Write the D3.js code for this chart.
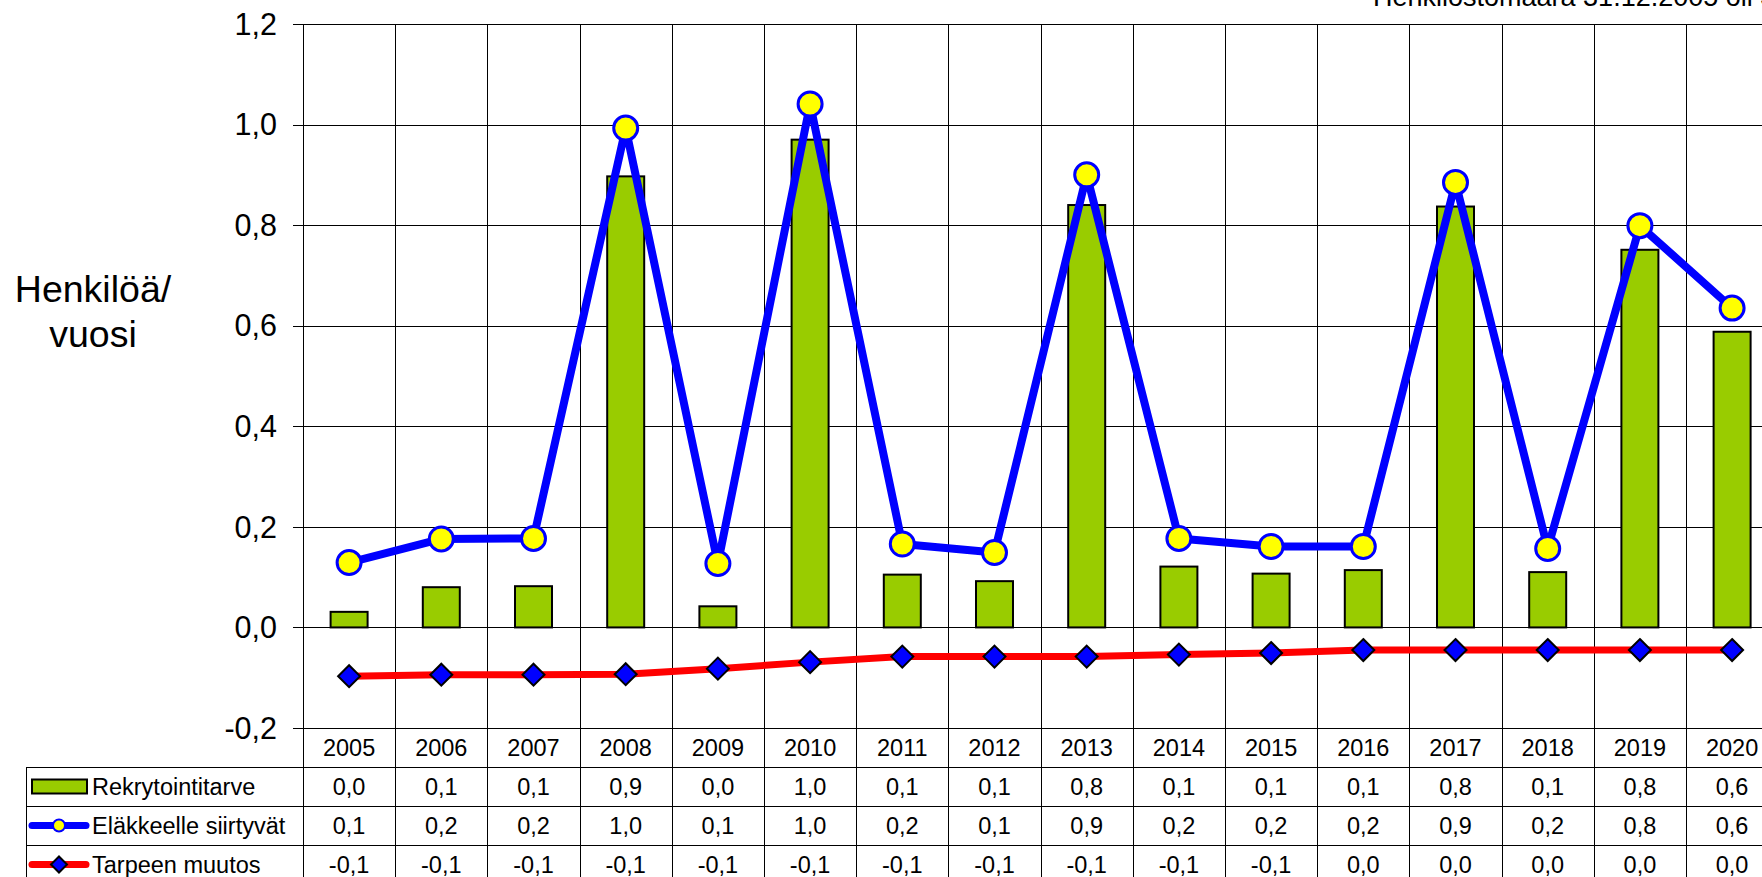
<!DOCTYPE html>
<html>
<head>
<meta charset="utf-8">
<script src="https://cdn.jsdelivr.net/npm/d3@7"></script>
<style>
    body { margin: 0; background: #fff; }
    svg { display: block; font-family: "Liberation Sans", Arial, sans-serif; }
</style>
</head>
<body>
<script>
// years on the x axis
const years = ["2005", "2006", "2007", "2008", "2009", "2010", "2011", "2012",
    "2013", "2014", "2015", "2016", "2017", "2018", "2019", "2020"];

// Rekrytointitarve (bars)
const rekrytointi = [0.031, 0.080, 0.082, 0.897, 0.042, 0.970, 0.105, 0.092,
    0.840, 0.121, 0.107, 0.114, 0.837, 0.110, 0.751, 0.588];

// Eläkkeelle siirtyvät (blue line)
const elakkeelle = [0.129, 0.176, 0.177, 0.993, 0.127, 1.041, 0.166, 0.149,
    0.900, 0.177, 0.161, 0.161, 0.885, 0.157, 0.799, 0.635];

// Tarpeen muutos (red line)
const muutos = [-0.097, -0.094, -0.094, -0.093, -0.082, -0.069, -0.058, -0.058,
    -0.058, -0.054, -0.051, -0.045, -0.045, -0.045, -0.045, -0.045];

const yTicks = [-0.2, 0, 0.2, 0.4, 0.6, 0.8, 1.0, 1.2];

const seriesNames = ["Rekrytointitarve", "Eläkkeelle siirtyvät", "Tarpeen muutos"];

const width = 1762, height = 877;
const plotLeft = 303, plotTop = 24, plotBottom = 728;
const step = 92.2;
const rowH = 39;
const tableFont = 23.5;

const fi = d3.formatLocale({decimal: ",", thousands: " ", grouping: [3], currency: ["", ""], minus: "-"});
const f1 = fi.format(".1f");

const svg = d3.select("body").append("svg")
    .attr("width", width)
    .attr("height", height);

const x = d3.scaleBand()
    .domain(years)
    .range([plotLeft, plotLeft + step * years.length])
    .padding(0);

const y = d3.scaleLinear()
    .domain([-0.2, 1.2])
    .range([plotBottom, plotTop]);

const cx = d => x(d) + x.bandwidth() / 2;
const tableTop = plotBottom + rowH;
const rows = [rekrytointi, elakkeelle, muutos];

// horizontal gridlines
svg.append("g")
    .selectAll("line")
    .data(yTicks)
    .join("line")
    .attr("x1", plotLeft - 10)
    .attr("x2", width)
    .attr("y1", d => Math.round(y(d)) + 0.5)
    .attr("y2", d => Math.round(y(d)) + 0.5)
    .attr("stroke", "#000")
    .attr("stroke-width", 1);

// vertical gridlines (continue down through the data table)
svg.append("g")
    .selectAll("line")
    .data(years.concat(["end"]))
    .join("line")
    .attr("x1", (d, i) => Math.round(plotLeft + i * x.bandwidth()) + 0.5)
    .attr("x2", (d, i) => Math.round(plotLeft + i * x.bandwidth()) + 0.5)
    .attr("y1", plotTop)
    .attr("y2", height)
    .attr("stroke", "#000")
    .attr("stroke-width", 1);

// y tick labels
svg.append("g")
    .selectAll("text")
    .data(yTicks)
    .join("text")
    .attr("x", 277)
    .attr("y", d => y(d))
    .attr("dy", "0.35em")
    .attr("text-anchor", "end")
    .attr("font-size", 30.5)
    .text(d => f1(d));

// y title
svg.append("text")
    .attr("x", 93)
    .attr("y", 302)
    .attr("text-anchor", "middle")
    .attr("font-size", 37.5)
    .selectAll("tspan")
    .data(["Henkilöä/", "vuosi"])
    .join("tspan")
    .attr("x", 93)
    .attr("dy", (d, i) => i ? 45 : 0)
    .text(d => d);

// note in the top right corner (cut by the page edge like in the original)
svg.append("text")
    .attr("x", 1373)
    .attr("y", 6)
    .attr("font-size", 27)
    .text("Henkilöstömäärä 31.12.2005 oli 3");

// bars
const barW = 37;
svg.append("g")
    .selectAll("rect")
    .data(rekrytointi)
    .join("rect")
    .attr("x", (d, i) => cx(years[i]) - barW / 2)
    .attr("y", d => y(Math.max(0, d)))
    .attr("width", barW)
    .attr("height", d => Math.abs(y(d) - y(0)))
    .attr("fill", "#99cc00")
    .attr("stroke", "#000")
    .attr("stroke-width", 2);

// red line + diamonds
const line = d3.line()
    .x((d, i) => cx(years[i]))
    .y(d => y(d));

svg.append("path")
    .datum(muutos)
    .attr("d", line)
    .attr("fill", "none")
    .attr("stroke", "#ff0000")
    .attr("stroke-width", 7)
    .attr("stroke-linejoin", "round");

const diamond = s => `M0,${-s}L${s},0L0,${s}L${-s},0Z`;

svg.append("g")
    .selectAll("path")
    .data(muutos)
    .join("path")
    .attr("transform", (d, i) => `translate(${cx(years[i])},${y(d)})`)
    .attr("d", diamond(11))
    .attr("fill", "#0000ff")
    .attr("stroke", "#000")
    .attr("stroke-width", 2);

// blue line + circles
svg.append("path")
    .datum(elakkeelle)
    .attr("d", line)
    .attr("fill", "none")
    .attr("stroke", "#0000ff")
    .attr("stroke-width", 8)
    .attr("stroke-linejoin", "round");

svg.append("g")
    .selectAll("circle")
    .data(elakkeelle)
    .join("circle")
    .attr("cx", (d, i) => cx(years[i]))
    .attr("cy", d => y(d))
    .attr("r", 12)
    .attr("fill", "#ffff00")
    .attr("stroke", "#0000ff")
    .attr("stroke-width", 3);

//-----DATA TABLE-----//
// year row
svg.append("g")
    .selectAll("text")
    .data(years)
    .join("text")
    .attr("x", d => cx(d))
    .attr("y", plotBottom + rowH / 2)
    .attr("dy", "0.35em")
    .attr("text-anchor", "middle")
    .attr("font-size", tableFont)
    .text(d => d);

// row borders
svg.append("g")
    .selectAll("line")
    .data(d3.range(4))
    .join("line")
    .attr("x1", 26)
    .attr("x2", width)
    .attr("y1", i => Math.round(tableTop + i * rowH) + 0.5)
    .attr("y2", i => Math.round(tableTop + i * rowH) + 0.5)
    .attr("stroke", "#000");

svg.append("line")
    .attr("x1", 26.5)
    .attr("x2", 26.5)
    .attr("y1", tableTop)
    .attr("y2", height)
    .attr("stroke", "#000");

// values
rows.forEach((vals, r) => {
    svg.append("g")
        .selectAll("text")
        .data(vals)
        .join("text")
        .attr("x", (d, i) => cx(years[i]))
        .attr("y", tableTop + r * rowH + rowH / 2)
        .attr("dy", "0.35em")
        .attr("text-anchor", "middle")
        .attr("font-size", tableFont)
        .text(d => f1(d));
});

// legend labels
svg.append("g")
    .selectAll("text")
    .data(seriesNames)
    .join("text")
    .attr("x", 92)
    .attr("y", (d, i) => tableTop + i * rowH + rowH / 2)
    .attr("dy", "0.35em")
    .attr("font-size", tableFont)
    .text(d => d);

// legend keys
const ry = i => tableTop + i * rowH + rowH / 2;

svg.append("rect")
    .attr("x", 32)
    .attr("y", ry(0) - 7)
    .attr("width", 55)
    .attr("height", 14)
    .attr("fill", "#99cc00")
    .attr("stroke", "#000")
    .attr("stroke-width", 2);

svg.append("line")
    .attr("x1", 32).attr("x2", 86)
    .attr("y1", ry(1)).attr("y2", ry(1))
    .attr("stroke", "#0000ff")
    .attr("stroke-width", 7)
    .attr("stroke-linecap", "round");

svg.append("circle")
    .attr("cx", 59)
    .attr("cy", ry(1))
    .attr("r", 6)
    .attr("fill", "#ffff00")
    .attr("stroke", "#0000ff")
    .attr("stroke-width", 2);

svg.append("line")
    .attr("x1", 32).attr("x2", 86)
    .attr("y1", ry(2)).attr("y2", ry(2))
    .attr("stroke", "#ff0000")
    .attr("stroke-width", 7)
    .attr("stroke-linecap", "round");

svg.append("path")
    .attr("transform", `translate(59,${ry(2)})`)
    .attr("d", diamond(8))
    .attr("fill", "#0000ff")
    .attr("stroke", "#000")
    .attr("stroke-width", 2);
</script>
</body>
</html>
